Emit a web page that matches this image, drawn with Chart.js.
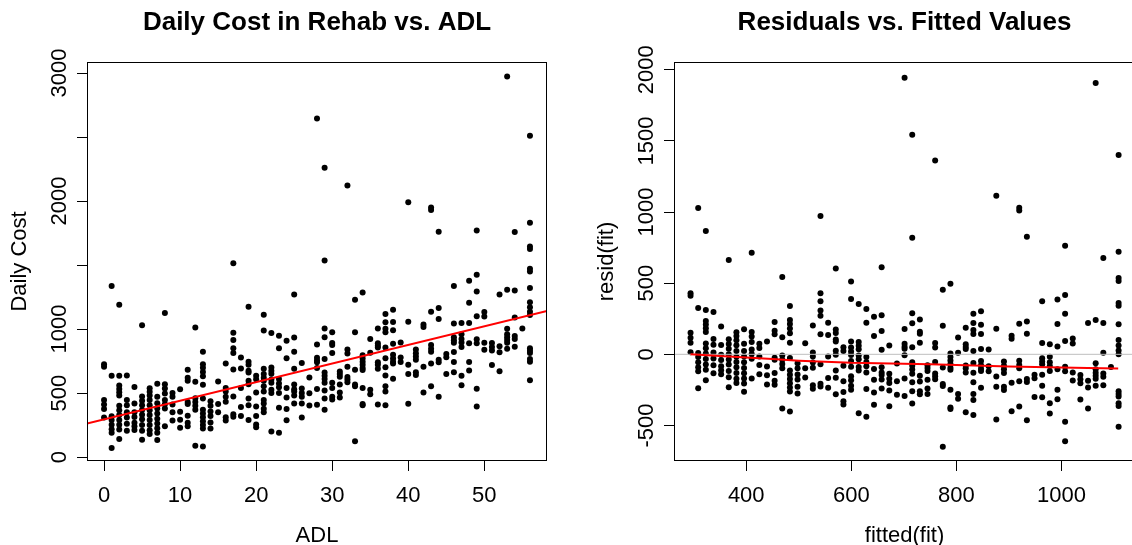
<!DOCTYPE html>
<html>
<head>
<meta charset="utf-8">
<script src="https://cdn.jsdelivr.net/npm/chart.js@4.4.0/dist/chart.umd.min.js"></script>
<style>
  html, body { margin: 0; padding: 0; background: #fff; overflow: hidden; }
  #wrap { position: relative; width: 1132px; height: 545px; overflow: hidden; }
  #left { position: absolute; left: 0; top: 0; }
  #right { position: absolute; left: 566px; top: 0; }
</style>
</head>
<body>
<div id="wrap">
  <canvas id="left" width="566" height="545"></canvas>
  <canvas id="right" width="600" height="545"></canvas>
</div>
<script>
// ADL scores (0..56) and the daily costs read for each score
const adlValues = [
  0, 1, 2, 3, 4, 5, 6, 7, 8, 9, 10, 11, 12, 13, 14, 15, 16, 17, 18, 19,
  20, 21, 22, 23, 24, 25, 26, 27, 28, 29, 30, 31, 32, 33, 34, 35, 36, 37, 38, 39,
  40, 41, 42, 43, 44, 45, 46, 47, 48, 49, 50, 51, 52, 53, 54, 55, 56
];
const costByAdl = [
  [724, 705, 445, 410, 375, 308],
  [1337, 635, 318, 290, 252, 218, 190, 70],
  [1190, 634, 558, 532, 506, 480, 400, 365, 328, 290, 252, 215, 140],
  [636, 445, 405, 350, 308, 260, 205],
  [548, 418, 350, 312, 268, 240, 212],
  [1030, 472, 440, 405, 368, 330, 295, 250, 205, 135],
  [537, 510, 480, 445, 405, 365, 328, 290, 250, 210, 180],
  [572, 471, 420, 380, 340, 300, 262, 225, 190, 133],
  [1125, 568, 535, 497, 445, 413, 380, 240],
  [500, 470, 410, 350, 285],
  [530, 354, 292, 228],
  [682, 620, 595, 430, 415, 322, 268, 240],
  [1012, 588, 460, 430, 400, 370, 88],
  [822, 725, 697, 665, 632, 565, 458, 370, 340, 310, 280, 250, 222, 82],
  [435, 400, 355, 320, 270, 222],
  [590, 415, 350],
  [730, 540, 512, 470, 432, 310, 285],
  [1514, 970, 915, 850, 812, 683, 472, 335, 315],
  [778, 692, 540, 390, 320],
  [1174, 745, 720, 675, 660, 595, 568, 457, 405, 290],
  [635, 608, 505, 395, 320, 255, 232],
  [1112, 988, 690, 648, 620, 595, 553, 512, 445, 418, 378, 350],
  [968, 700, 675, 650, 605, 580, 525, 500, 200],
  [948, 850, 610, 575, 545, 500, 385, 190],
  [908, 772, 540, 465, 375, 288],
  [1270, 933, 822, 690, 566, 530, 512, 480, 418],
  [735, 535, 500, 470, 418, 308],
  [622, 498, 403],
  [2645, 880, 775, 755, 740, 695, 532, 408],
  [2260, 1536, 1005, 935, 765, 660, 635, 610, 580, 520, 457, 370],
  [975, 890, 875, 812, 580, 540, 471, 450],
  [668, 648, 628, 567, 505, 466],
  [2122, 840, 808, 705, 625, 605, 585],
  [1228, 975, 682, 566, 552, 124],
  [1285, 795, 770, 745, 720, 695, 680, 540, 415, 405],
  [922, 815, 525, 490],
  [1005, 888, 870, 855, 740, 720, 690, 410],
  [1118, 1052, 1003, 975, 855, 772, 702, 636, 553, 512, 405],
  [1150, 1055, 990, 885, 800, 770, 745, 730, 612],
  [895, 778, 743],
  [1990, 1056, 720, 648, 417],
  [840, 810, 785, 760, 662, 640],
  [1035, 1015, 705, 505],
  [1950, 1930, 1135, 875, 845, 822, 730, 553],
  [1760, 1165, 1078, 760, 740, 471],
  [805, 780, 648],
  [1337, 1043, 935, 912, 893, 820, 743, 662],
  [1048, 960, 922, 895, 860, 634, 561],
  [1378, 1206, 1048, 888, 743, 676],
  [1770, 1424, 1293, 1100, 920, 888, 533, 395],
  [1133, 1097, 893, 838],
  [890, 860, 832, 718],
  [1270, 865, 818, 670],
  [2972, 1307, 1002, 960, 935, 915, 893, 845],
  [1757, 1300, 1090, 945, 922, 862],
  [1005],
  [2510, 1830, 1645, 1625, 1470, 1450, 1320, 1210, 1170, 1135, 1110, 850, 830, 812, 765, 745, 600]
];

// fitted line: intercept, slope
const fitCoef = [294, 14.55];

// lowess curve
const lowessFitted = [294, 350, 400, 450, 500, 550, 600, 650, 700, 750, 800, 850, 900, 950, 1000, 1050, 1108];
const lowessResid = [0, -12, -22, -33, -45, -53, -60, -62, -66, -70, -75, -80, -86, -90, -92, -97, -100];

// axis ranges and ticks
const adlRange = [-2.24, 58.24];
const costRange = [-31, 3086];
const fittedRange = [262.5, 1140];
const residRange = [-750, 2055];
const adlTicks = [0, 10, 20, 30, 40, 50];
const costTicks = [0, 500, 1000, 1500, 2000, 2500, 3000];
const costLabels = [0, 500, 1000, 2000, 3000];
const fittedTicks = [400, 600, 800, 1000];
const residTicks = [-500, 0, 500, 1000, 1500, 2000];

const FONT = '"Liberation Sans", Arial, Helvetica, sans-serif';

// points
const leftPts = [];
const rightPts = [];
adlValues.forEach((a, i) => {
    const fit = fitCoef[0] + fitCoef[1] * a;
    costByAdl[i].forEach(c => {
        leftPts.push({ x: a, y: c });
        rightPts.push({ x: fit, y: c - fit });
    });
});
const fitLine = adlRange.map(x => ({ x, y: fitCoef[0] + fitCoef[1] * x }));
const lowessPts = lowessFitted.map((x, i) => ({ x, y: lowessResid[i] }));

// R-like frame, ticks labels and titles
const rStyle = {
    id: 'rStyle',
    afterDraw(chart, args, o) {
        const ctx = chart.ctx, a = chart.chartArea;
        const xs = chart.scales.x, ys = chart.scales.y;
        ctx.save();
        ctx.strokeStyle = '#000';
        ctx.lineWidth = 1;
        ctx.strokeRect(Math.round(a.left) + 0.5, Math.round(a.top) + 0.5,
            Math.round(a.right - a.left) - 1, Math.round(a.bottom - a.top) - 1);

        ctx.fillStyle = '#000';
        ctx.textAlign = 'center';
        ctx.textBaseline = 'alphabetic';

        ctx.font = 'bold 26px ' + FONT;
        ctx.fillText(o.title, (a.left + a.right) / 2, 30);

        ctx.font = '22px ' + FONT;
        o.xLabels.forEach(v => ctx.fillText(String(v), xs.getPixelForValue(v), 502));
        ctx.fillText(o.xTitle, (a.left + a.right) / 2, 542);

        const rot = (text, x, y) => {
            ctx.save();
            ctx.translate(x, y);
            ctx.rotate(-Math.PI / 2);
            ctx.fillText(text, 0, 0);
            ctx.restore();
        };
        o.yLabels.forEach(v => rot(String(v), a.left - 21, ys.getPixelForValue(v)));
        rot(o.yTitle, a.left - 61, (a.top + a.bottom) / 2);
        ctx.restore();
    }
};

function axis(range, ticks, size, isX) {
    return {
        type: 'linear',
        min: range[0],
        max: range[1],
        border: { display: false },
        grid: { drawOnChartArea: false, drawTicks: true, tickLength: 10, color: '#000', lineWidth: 1 },
        ticks: { display: false },
        afterBuildTicks: s => { s.ticks = ticks.map(v => ({ value: v })); },
        afterFit: s => { if (isX) s.height = size; else s.width = size; }
    };
}

function baseOptions(padRight, yWidth, xRange, xTicks, yRange, yTicks, style) {
    return {
        responsive: false,
        animation: false,
        layout: { padding: { top: 62, right: padRight, bottom: 0, left: 0 } },
        plugins: { legend: { display: false }, tooltip: { enabled: false }, rStyle: style },
        scales: {
            x: axis(xRange, xTicks, 84, true),
            y: axis(yRange, yTicks, yWidth, false)
        }
    };
}

new Chart(document.getElementById('left'), {
    type: 'scatter',
    data: {
        datasets: [
            { data: fitLine, showLine: true, borderColor: '#ff0000', borderWidth: 2, pointRadius: 0, order: 1 },
            { data: leftPts, backgroundColor: '#000', pointRadius: 3, borderWidth: 0, order: 3 }
        ]
    },
    options: baseOptions(19, 87, adlRange, adlTicks, costRange, costTicks, {
        title: 'Daily Cost in Rehab vs. ADL',
        xTitle: 'ADL',
        yTitle: 'Daily Cost',
        xLabels: adlTicks,
        yLabels: costLabels
    }),
    plugins: [rStyle]
});

new Chart(document.getElementById('right'), {
    type: 'scatter',
    data: {
        datasets: [
            { data: lowessPts, showLine: true, borderColor: '#ff0000', borderWidth: 2, pointRadius: 0, tension: 0, order: 1 },
            { data: fittedRange.map(x => ({ x, y: 0 })), showLine: true, borderColor: '#bebebe', borderWidth: 1, pointRadius: 0, order: 2 },
            { data: rightPts, backgroundColor: '#000', pointRadius: 3, borderWidth: 0, order: 3 }
        ]
    },
    options: baseOptions(31, 108, fittedRange, fittedTicks, residRange, residTicks, {
        title: 'Residuals vs. Fitted Values',
        xTitle: 'fitted(fit)',
        yTitle: 'resid(fit)',
        xLabels: fittedTicks,
        yLabels: residTicks
    }),
    plugins: [rStyle]
});
</script>
</body>
</html>
